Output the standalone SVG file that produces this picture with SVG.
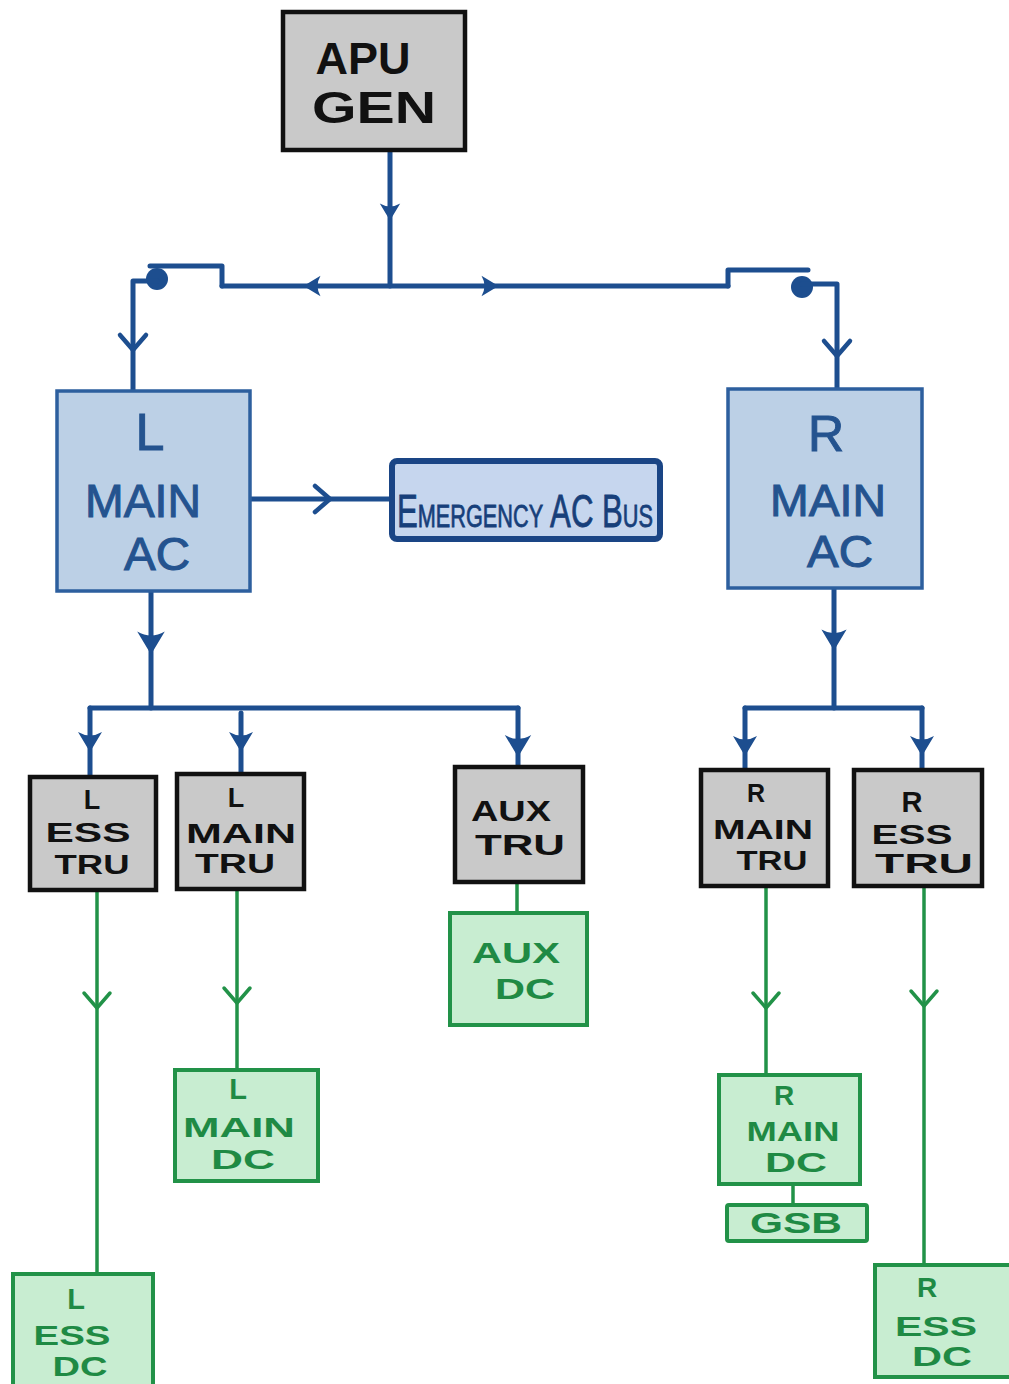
<svg xmlns="http://www.w3.org/2000/svg" xmlns:xlink="http://www.w3.org/1999/xlink" width="1009" height="1384" viewBox="0 0 1009 1384">
<style>
.bg{fill:#ffffff}
.gray{fill:#c9c9c9;stroke:#111111;stroke-width:4.5}
.blue{fill:#bcd0e6;stroke:#2d5f9e;stroke-width:3.5}
.emer{fill:#c6d6ee;stroke:#1a4585;stroke-width:6}
.green{fill:#c8edd1;stroke:#229248;stroke-width:4}
.tk{font-family:"Liberation Sans",Arial,sans-serif;fill:#111111;text-anchor:middle;font-weight:bold}
.tb{font-family:"Liberation Sans",Arial,sans-serif;fill:#24538f;stroke:#24538f;stroke-width:1;text-anchor:middle}
.tg{font-family:"Liberation Sans",Arial,sans-serif;fill:#1f8a44;text-anchor:middle;font-weight:bold}
.cb{fill:none;stroke:#1d4e8f;stroke-width:5;stroke-linecap:round;stroke-linejoin:round}
.cg{fill:none;stroke:#229248;stroke-width:3.5;stroke-linecap:round}
.sa{fill:#1d4e8f}
.ob{fill:none;stroke:#1d4e8f;stroke-width:4.5;stroke-linecap:round;stroke-linejoin:round}
.og{fill:none;stroke:#229248;stroke-width:3.5;stroke-linecap:round;stroke-linejoin:round}
</style>
<defs>
<path id="solid" d="M-12,-10 Q0,-3 12,-10 L0,10 Z"/>
<path id="vopen" d="M-13,-15 L0,0 L13,-15"/>
</defs>
<rect class="bg" x="0" y="0" width="1009" height="1384"/>

<g id="connectors">
  <path class="cb" d="M390,150 V286"/>
  <path class="cb" d="M222,286 H728"/>
  <path class="cb" d="M222,286 V266 H150"/>
  <circle class="sa" cx="157" cy="279" r="11"/>
  <path class="cb" d="M157,281 H133 V392"/>
  <path class="cb" d="M728,286 V270 H808"/>
  <circle class="sa" cx="802" cy="287" r="11"/>
  <path class="cb" d="M802,284 H837 V390"/>
  <path class="cb" d="M250,499 H392"/>
  <path class="cb" d="M151,592 V708"/>
  <path class="cb" d="M90,708 H518"/>
  <path class="cb" d="M90,708 V778"/>
  <path class="cb" d="M241,713 V774"/>
  <path class="cb" d="M518,708 V767"/>
  <path class="cb" d="M834,588 V708"/>
  <path class="cb" d="M745,708 H922"/>
  <path class="cb" d="M745,708 V770"/>
  <path class="cb" d="M922,708 V770"/>
  <use xlink:href="#solid" href="#solid" class="sa" transform="translate(390,212) scale(0.85)"/>
  <use xlink:href="#solid" href="#solid" class="sa" transform="translate(151,643) scale(1.15)"/>
  <use xlink:href="#solid" href="#solid" class="sa" transform="translate(834,640) scale(1.05)"/>
  <use xlink:href="#solid" href="#solid" class="sa" transform="translate(90,742)"/>
  <use xlink:href="#solid" href="#solid" class="sa" transform="translate(241,742)"/>
  <use xlink:href="#solid" href="#solid" class="sa" transform="translate(518,746) scale(1.1)"/>
  <use xlink:href="#solid" href="#solid" class="sa" transform="translate(745,746)"/>
  <use xlink:href="#solid" href="#solid" class="sa" transform="translate(922,746)"/>
  <use xlink:href="#solid" href="#solid" class="sa" transform="translate(312,286) rotate(90) scale(0.85)"/>
  <use xlink:href="#solid" href="#solid" class="sa" transform="translate(490,286) rotate(-90) scale(0.85)"/>
  <use xlink:href="#vopen" href="#vopen" class="ob" transform="translate(133,350)"/>
  <use xlink:href="#vopen" href="#vopen" class="ob" transform="translate(837,356)"/>
  <use xlink:href="#vopen" href="#vopen" class="ob" transform="translate(330,499) rotate(-90)"/>
  <path class="cg" d="M97,890 V1275"/>
  <path class="cg" d="M237,890 V1070"/>
  <path class="cg" d="M517,882 V913"/>
  <path class="cg" d="M766,886 V1075"/>
  <path class="cg" d="M924,886 V1265"/>
  <path class="cg" d="M793,1183 V1205"/>
  <use xlink:href="#vopen" href="#vopen" class="og" transform="translate(97,1008)"/>
  <use xlink:href="#vopen" href="#vopen" class="og" transform="translate(237,1003)"/>
  <use xlink:href="#vopen" href="#vopen" class="og" transform="translate(766,1008)"/>
  <use xlink:href="#vopen" href="#vopen" class="og" transform="translate(924,1006)"/>
</g>

<g id="apu-gen">
  <rect class="gray" x="283" y="12" width="182" height="138"/>
  <text class="tk" x="363" y="74" font-size="45" font-weight="normal" textLength="95" lengthAdjust="spacingAndGlyphs">APU</text>
  <text class="tk" x="374" y="123" font-size="45" font-weight="normal" textLength="124" lengthAdjust="spacingAndGlyphs">GEN</text>
</g>

<g id="l-main-ac">
  <rect class="blue" x="57" y="391" width="193" height="200"/>
  <text class="tb" x="150" y="450" font-size="52">L</text>
  <text class="tb" x="143" y="517" font-size="46" textLength="116" lengthAdjust="spacingAndGlyphs">MAIN</text>
  <text class="tb" x="157" y="570" font-size="46" textLength="66" lengthAdjust="spacingAndGlyphs">AC</text>
</g>

<g id="r-main-ac">
  <rect class="blue" x="728" y="389" width="194" height="199"/>
  <text class="tb" x="826" y="451" font-size="50">R</text>
  <text class="tb" x="828" y="516" font-size="45" textLength="116" lengthAdjust="spacingAndGlyphs">MAIN</text>
  <text class="tb" x="840" y="567" font-size="45" textLength="66" lengthAdjust="spacingAndGlyphs">AC</text>
</g>

<g id="emergency-ac-bus">
  <rect class="emer" x="392" y="461" width="268" height="78" rx="5"/>
  <text x="525" y="527" font-family="'Liberation Sans Narrow','Liberation Sans',Arial,sans-serif" font-size="46" fill="#173f7a" stroke="#173f7a" stroke-width="0.8" text-anchor="middle" font-variant="small-caps" textLength="256" lengthAdjust="spacingAndGlyphs">Emergency AC Bus</text>
</g>

<g id="l-ess-tru">
  <rect class="gray" x="30" y="777" width="126" height="113"/>
  <text class="tk" x="92" y="809" font-size="27">L</text>
  <text class="tk" x="88" y="842" font-size="27" textLength="85" lengthAdjust="spacingAndGlyphs">ESS</text>
  <text class="tk" x="92" y="874" font-size="27" textLength="75" lengthAdjust="spacingAndGlyphs">TRU</text>
</g>

<g id="l-main-tru">
  <rect class="gray" x="177" y="774" width="127" height="115"/>
  <text class="tk" x="236" y="807" font-size="27">L</text>
  <text class="tk" x="241" y="843" font-size="27" textLength="110" lengthAdjust="spacingAndGlyphs">MAIN</text>
  <text class="tk" x="235" y="873" font-size="27" textLength="80" lengthAdjust="spacingAndGlyphs">TRU</text>
</g>

<g id="aux-tru">
  <rect class="gray" x="455" y="767" width="128" height="115"/>
  <text class="tk" x="511" y="821" font-size="30" textLength="80" lengthAdjust="spacingAndGlyphs">AUX</text>
  <text class="tk" x="520" y="855" font-size="30" textLength="90" lengthAdjust="spacingAndGlyphs">TRU</text>
</g>

<g id="r-main-tru">
  <rect class="gray" x="701" y="770" width="127" height="116"/>
  <text class="tk" x="756" y="802" font-size="25">R</text>
  <text class="tk" x="763" y="839" font-size="27" textLength="100" lengthAdjust="spacingAndGlyphs">MAIN</text>
  <text class="tk" x="772" y="870" font-size="27" textLength="71" lengthAdjust="spacingAndGlyphs">TRU</text>
</g>

<g id="r-ess-tru">
  <rect class="gray" x="854" y="770" width="128" height="116"/>
  <text class="tk" x="912" y="812" font-size="29">R</text>
  <text class="tk" x="912" y="844" font-size="28" textLength="81" lengthAdjust="spacingAndGlyphs">ESS</text>
  <text class="tk" x="924" y="873" font-size="28" textLength="98" lengthAdjust="spacingAndGlyphs">TRU</text>
</g>

<g id="aux-dc">
  <rect class="green" x="450" y="913" width="137" height="112"/>
  <text class="tg" x="516" y="963" font-size="29" textLength="88" lengthAdjust="spacingAndGlyphs">AUX</text>
  <text class="tg" x="525" y="999" font-size="30" textLength="60" lengthAdjust="spacingAndGlyphs">DC</text>
</g>

<g id="l-main-dc">
  <rect class="green" x="175" y="1070" width="143" height="111"/>
  <text class="tg" x="238" y="1099" font-size="29">L</text>
  <text class="tg" x="239" y="1137" font-size="28" textLength="112" lengthAdjust="spacingAndGlyphs">MAIN</text>
  <text class="tg" x="243" y="1169" font-size="28" textLength="64" lengthAdjust="spacingAndGlyphs">DC</text>
</g>

<g id="r-main-dc">
  <rect class="green" x="719" y="1075" width="141" height="109"/>
  <text class="tg" x="784" y="1105" font-size="28">R</text>
  <text class="tg" x="793" y="1141" font-size="28" textLength="93" lengthAdjust="spacingAndGlyphs">MAIN</text>
  <text class="tg" x="796" y="1172" font-size="27" textLength="62" lengthAdjust="spacingAndGlyphs">DC</text>
</g>

<g id="gsb">
  <rect class="green" x="727" y="1205" width="140" height="36" rx="2"/>
  <text class="tg" x="796" y="1233" font-size="30" textLength="92" lengthAdjust="spacingAndGlyphs">GSB</text>
</g>

<g id="l-ess-dc">
  <rect class="green" x="13" y="1274" width="140" height="120"/>
  <text class="tg" x="76" y="1309" font-size="29">L</text>
  <text class="tg" x="72" y="1345" font-size="28" textLength="77" lengthAdjust="spacingAndGlyphs">ESS</text>
  <text class="tg" x="80" y="1376" font-size="27" textLength="55" lengthAdjust="spacingAndGlyphs">DC</text>
</g>

<g id="r-ess-dc">
  <rect class="green" x="875" y="1265" width="140" height="112"/>
  <text class="tg" x="927" y="1297" font-size="28">R</text>
  <text class="tg" x="936" y="1336" font-size="28" textLength="82" lengthAdjust="spacingAndGlyphs">ESS</text>
  <text class="tg" x="942" y="1366" font-size="28" textLength="60" lengthAdjust="spacingAndGlyphs">DC</text>
</g>
</svg>
